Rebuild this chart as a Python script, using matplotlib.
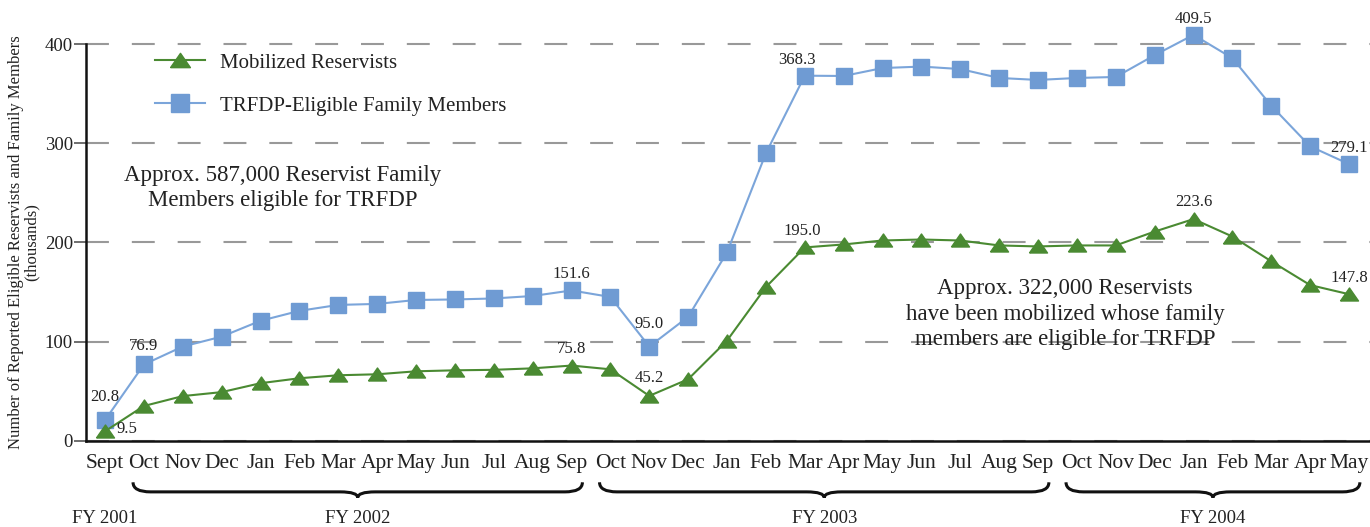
import matplotlib.pyplot as plt
from matplotlib.path import Path
from matplotlib.patches import PathPatch
from matplotlib.transforms import blended_transform_factory

months = ["Sept", "Oct", "Nov", "Dec", "Jan", "Feb", "Mar", "Apr", "May", "Jun", "Jul", "Aug", "Sep",
          "Oct", "Nov", "Dec", "Jan", "Feb", "Mar", "Apr", "May", "Jun", "Jul", "Aug", "Sep",
          "Oct", "Nov", "Dec", "Jan", "Feb", "Mar", "Apr", "May"]

# thousands
family_members = [20.8, 76.9, 95.0, 105, 121, 131, 137, 138, 142, 142.5, 143.5, 146, 151.6,
                  145, 95.0, 125, 190, 290, 368.3, 368, 376, 377.5, 375, 366, 364,
                  366, 367, 389, 409.5, 386, 338, 297, 279.1]
reservists = [9.5, 35, 45, 49, 58, 63, 66, 67, 70, 71, 71.5, 73, 75.8,
              72, 45.2, 62, 101, 155, 195.0, 198, 202, 203, 202, 197, 196,
              197, 197, 211, 223.6, 206, 181, 157, 147.8]

# fiscal years: (label, first month index, last month index)
fiscal_years = [("FY 2001", 0, 0), ("FY 2002", 1, 12), ("FY 2003", 13, 24), ("FY 2004", 25, 32)]

labeled_points = [0, 1, 12, 14, 18, 28, 32]

BLUE = "#6f9bd3"
BLUE_LINE = "#7ba5da"
GREEN = "#4a8a32"
TEXT = "#222222"

plt.rcParams["font.family"] = ["Liberation Serif", "DejaVu Serif"]


def draw_brace(ax, x0, x1, trans):
    xm = (x0 + x1) / 2
    y_top, y_flat, y_tip = -0.100, -0.123, -0.137
    w = 0.45
    verts = [(x0, y_top), (x0, y_flat), (x0 + w, y_flat),
             (xm - w, y_flat), (xm, y_flat), (xm, y_tip),
             (xm, y_flat), (xm + w, y_flat),
             (x1 - w, y_flat), (x1, y_flat), (x1, y_top)]
    codes = [Path.MOVETO, Path.CURVE3, Path.CURVE3,
             Path.LINETO, Path.CURVE3, Path.CURVE3,
             Path.CURVE3, Path.CURVE3,
             Path.LINETO, Path.CURVE3, Path.CURVE3]
    patch = PathPatch(Path(verts, codes), transform=trans, fill=False,
                      edgecolor="#111111", linewidth=2.2, clip_on=False)
    ax.add_patch(patch)


fig = plt.figure(figsize=(13.7, 5.27), dpi=100)
ax = fig.add_axes([0.0628, 0.1638, 0.9372, 0.7898])

x = list(range(len(months)))
tri = [(-1, -0.72), (1, -0.72), (0, 0.72), (-1, -0.72)]

ax.plot(x, family_members, color=BLUE_LINE, linewidth=1.5, marker="s", markersize=11.2,
        markerfacecolor=BLUE, markeredgecolor=BLUE, label="TRFDP-Eligible Family Members", zorder=3)
ax.plot(x, reservists, color=GREEN, linewidth=1.5, marker=tri, markersize=13,
        markerfacecolor=GREEN, markeredgecolor=GREEN, label="Mobilized Reservists", zorder=4)

# value labels
for i in labeled_points:
    dx = 0
    if i == 18:
        dx = -6
    dy = 11.5
    if i == 0:
        dy = 16.5
    elif i == 1:
        dy = 13
    elif i == 14:
        dy = 16
    ax.annotate(f"{family_members[i]:.1f}", (i, family_members[i]), xytext=(dx, dy),
                textcoords="offset points", ha="center", va="center", fontsize=12, color=TEXT, zorder=5)
for i in labeled_points:
    if i == 1:
        continue
    dx, dy = 0, 12
    if i == 0:
        dx, dy = 16, 1.5
    elif i == 14:
        dy = 13
    elif i == 18:
        dx = -2
    ax.annotate(f"{reservists[i]:.1f}", (i, reservists[i]), xytext=(dx, dy),
                textcoords="offset points", ha="center", va="center", fontsize=12, color=TEXT, zorder=5)

ax.text(4.58, 254.5, "Approx. 587,000 Reservist Family\nMembers eligible for TRFDP",
        ha="center", va="center", fontsize=16.5, color=TEXT, linespacing=1.25)
ax.text(24.7, 127.8, "Approx. 322,000 Reservists\nhave been mobilized whose family\nmembers are eligible for TRFDP",
        ha="center", va="center", fontsize=16.5, color=TEXT, linespacing=1.29, zorder=1)

ax.set_xlim(-0.489, 32.54)
ax.set_ylim(0, 420)
ax.set_xticks(x)
ax.set_xticklabels(months, fontsize=15.5, color=TEXT)
ax.set_yticks([0, 100, 200, 300, 400])
ax.tick_params(axis="x", length=0, pad=9.5)
ax.tick_params(axis="y", length=8.5, width=1.2, color="#555555", labelsize=13.5, labelcolor=TEXT, pad=1)

ax.yaxis.grid(True, color="#999999", linewidth=1.5, linestyle=(0, (11, 11)))
ax.set_axisbelow(True)

for side in ["top", "right"]:
    ax.spines[side].set_visible(False)
ax.spines["left"].set_bounds(0, 400)
ax.spines["left"].set_linewidth(1.8)
ax.spines["bottom"].set_linewidth(1.8)
ax.spines["left"].set_color("#111111")
ax.spines["bottom"].set_color("#111111")

handles, labels = ax.get_legend_handles_labels()
ax.legend(handles[::-1], labels[::-1], loc="upper left", bbox_to_anchor=(0.0537, 0.931), frameon=False,
          fontsize=15, handlelength=2.4, handletextpad=0.72, labelspacing=1.115, borderpad=0,
          borderaxespad=0, labelcolor=TEXT, markerscale=1.1)

fig.text(24 / 1370, 0.5408,
         "Number of Reported Eligible Reservists and Family Members\n(thousands)",
         rotation=90, ha="center", va="center", fontsize=12, color=TEXT, linespacing=1.0,
         multialignment="center")

trans = blended_transform_factory(ax.transData, ax.transAxes)
for name, first, last in fiscal_years:
    if last > first:
        draw_brace(ax, first - 0.28, min(last + 0.28, 32.5), trans)
    ax.text((first + last) / 2, -0.188, name, transform=trans, ha="center", va="center",
            fontsize=13.5, color=TEXT)

fig.savefig("out.png", dpi=100)
